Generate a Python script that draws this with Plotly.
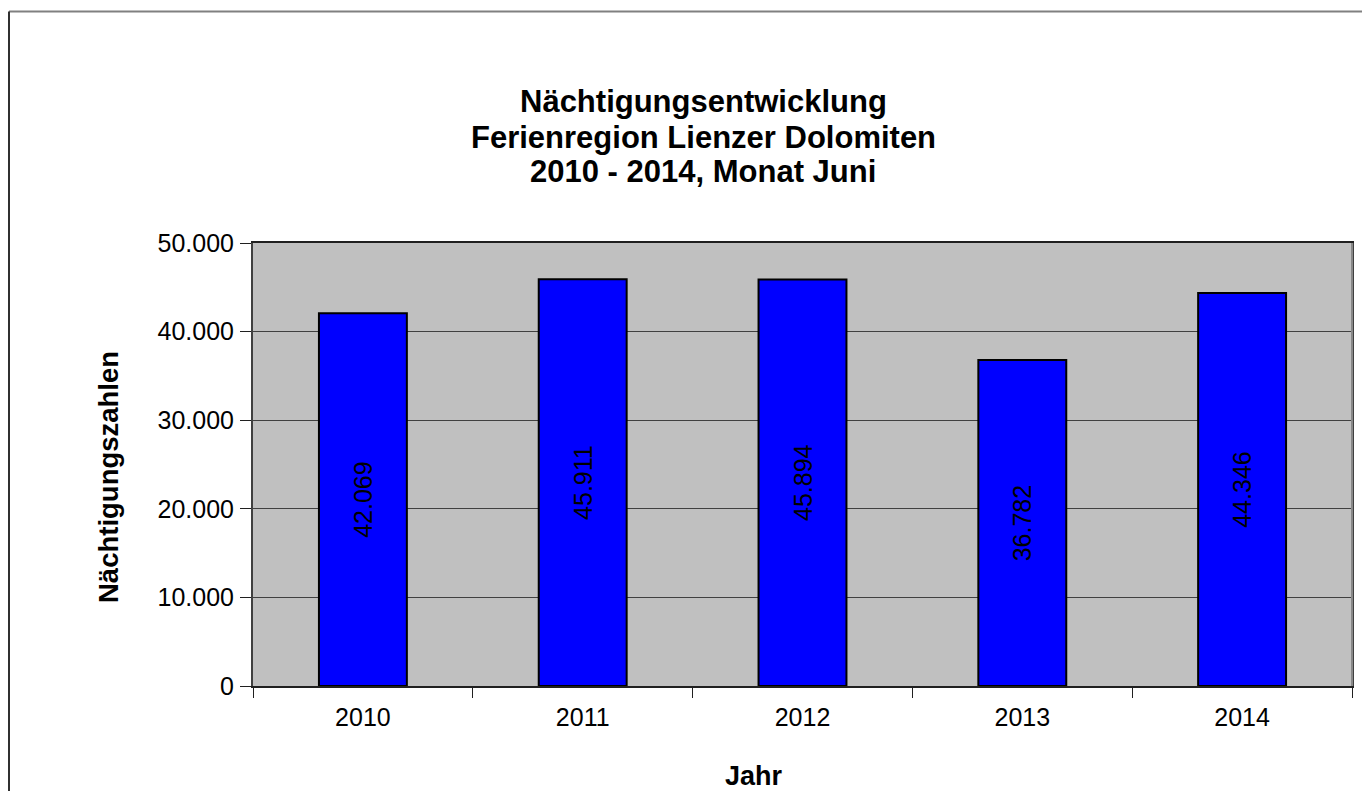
import plotly.graph_objects as go

years = ["2010", "2011", "2012", "2013", "2014"]
values = [42069, 45911, 45894, 36782, 44346]
y_ticks = [0, 10000, 20000, 30000, 40000, 50000]
title_lines = ["Nächtigungsentwicklung", "Ferienregion Lienzer Dolomiten", "2010 - 2014, Monat Juni"]
x_title = "Jahr"
y_title = "Nächtigungszahlen"

FONT = "Liberation Sans, Arial, sans-serif"
OFF = 8  # default body margin of the html page
W, H = 1370 - 2 * OFF, 799 - 2 * OFF
# plot area in page pixel coordinates
PX0, PX1, PY0, PY1 = 253, 1352, 243, 686
L, T = PX0 - OFF, PY0 - OFF
R = (W + OFF) - PX1
B = (H + OFF) - PY1
PW, PH = PX1 - PX0, PY1 - PY0

def px_x(x):
    return (x - PX0) / PW

def px_y(y):
    return (PY1 - y) / PH

labels = [f"{v:,}".replace(",", ".") for v in values]

fig = go.Figure(go.Bar(
    x=years, y=values,
    marker=dict(color="#0000ff", line=dict(color="#000000", width=2)),
    text=labels, textposition="inside", insidetextanchor="middle",
    textangle=-90, constraintext="none",
    textfont=dict(family=FONT, size=25, color="#000000"),
    hoverinfo="skip",
))

fig.update_layout(
    width=W, height=H,
    margin=dict(l=L, r=R, t=T, b=B, autoexpand=False),
    paper_bgcolor="#ffffff", plot_bgcolor="#c0c0c0",
    separators=",.",
    bargap=0.6,
    showlegend=False,
    font=dict(family=FONT, color="#000000"),
)

fig.update_xaxes(
    type="category", tickson="boundaries", ticks="outside", ticklen=10,
    tickcolor="#202020", tickwidth=1,
    showline=True, linecolor="#202020", linewidth=2, mirror=True,
    ticklabelstandoff=8,
    showgrid=False, tickfont=dict(family=FONT, size=25, color="#000000"),
)
fig.update_yaxes(
    range=[0, 50000], tickvals=y_ticks, tickformat=",d",
    ticks="outside", ticklen=11, tickcolor="#202020", tickwidth=1,
    ticklabelstandoff=1,
    showline=True, linecolor="#404040", linewidth=2, mirror=True,
    showgrid=True, gridcolor="#404040", gridwidth=1,
    zeroline=False,
    tickfont=dict(family=FONT, size=25, color="#000000"),
)

# right edge of plot area in lighter grey
fig.add_shape(type="line", xref="paper", yref="paper", x0=1, x1=1, y0=0, y1=1,
              line=dict(color="#888888", width=2))

# outer chart border (top and left visible)
fig.add_shape(type="line", xref="paper", yref="paper",
              x0=px_x(9), x1=px_x(1400), y0=px_y(11.5), y1=px_y(11.5),
              line=dict(color="#808080", width=2))
fig.add_shape(type="line", xref="paper", yref="paper",
              x0=px_x(9), x1=px_x(9), y0=px_y(11.5), y1=px_y(830),
              line=dict(color="#303030", width=2))

title_mid_y = [101, 137, 172]
for line, ym in zip(title_lines, title_mid_y):
    fig.add_annotation(
        text="<b>" + line + "</b>",
        xref="paper", yref="paper", x=px_x(703), y=px_y(ym),
        xanchor="center", yanchor="middle", showarrow=False,
        font=dict(family=FONT, size=31, color="#000000"),
    )
fig.add_annotation(
    text="<b>" + x_title + "</b>",
    xref="paper", yref="paper", x=px_x(754), y=px_y(776),
    xanchor="center", yanchor="middle", showarrow=False,
    font=dict(family=FONT, size=27, color="#000000"),
)
fig.add_annotation(
    text="<b>" + y_title + "</b>",
    xref="paper", yref="paper", x=px_x(108), y=px_y(477),
    xanchor="center", yanchor="middle", showarrow=False, textangle=-90,
    font=dict(family=FONT, size=27.5, color="#000000"),
)

fig.write_html("out.html")
